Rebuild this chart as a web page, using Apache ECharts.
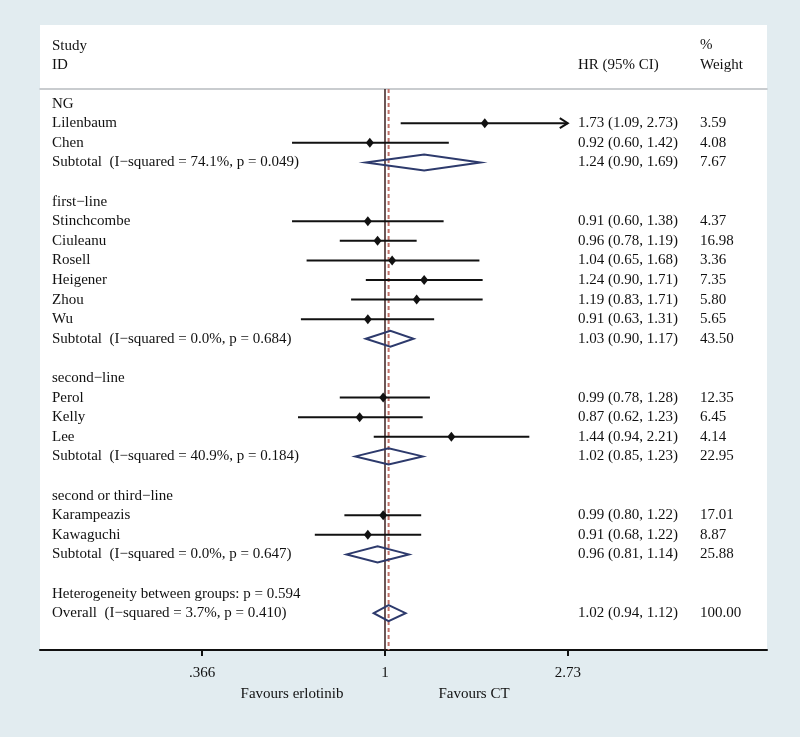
<!DOCTYPE html>
<html>
<head>
<meta charset="utf-8">
<script src="https://cdn.jsdelivr.net/npm/echarts@6/dist/echarts.min.js"></script>
<style>
  html, body { margin: 0; padding: 0; background: #e2ecf0; }
  #chart { width: 800px; height: 737px; }
</style>
</head>
<body>
<div id="chart"></div>
<script>
// rows of the forest plot, top to bottom
const rowNames = [
  'NG', 'Lilenbaum', 'Chen', 'Subtotal  (I\u2212squared = 74.1%, p = 0.049)', '',
  'first\u2212line', 'Stinchcombe', 'Ciuleanu', 'Rosell', 'Heigener', 'Zhou', 'Wu',
  'Subtotal  (I\u2212squared = 0.0%, p = 0.684)', '',
  'second\u2212line', 'Perol', 'Kelly', 'Lee', 'Subtotal  (I\u2212squared = 40.9%, p = 0.184)', '',
  'second or third\u2212line', 'Karampeazis', 'Kawaguchi', 'Subtotal  (I\u2212squared = 0.0%, p = 0.647)', '',
  'Heterogeneity between groups: p = 0.594', 'Overall  (I\u2212squared = 3.7%, p = 0.410)'
];
// 0 = study, 1 = pooled (diamond), null = text only
const rowKind = [
  null, 0, 0, 1, null,
  null, 0, 0, 0, 0, 0, 0, 1, null,
  null, 0, 0, 0, 1, null,
  null, 0, 0, 1, null,
  null, 1
];
const hrEst = [
  null, 1.73, 0.92, 1.24, null,
  null, 0.91, 0.96, 1.04, 1.24, 1.19, 0.91, 1.03, null,
  null, 0.99, 0.87, 1.44, 1.02, null,
  null, 0.99, 0.91, 0.96, null,
  null, 1.02
];
const ciLow = [
  null, 1.09, 0.60, 0.90, null,
  null, 0.60, 0.78, 0.65, 0.90, 0.83, 0.63, 0.90, null,
  null, 0.78, 0.62, 0.94, 0.85, null,
  null, 0.80, 0.68, 0.81, null,
  null, 0.94
];
const ciHigh = [
  null, 2.73, 1.42, 1.69, null,
  null, 1.38, 1.19, 1.68, 1.71, 1.71, 1.31, 1.17, null,
  null, 1.28, 1.23, 2.21, 1.23, null,
  null, 1.22, 1.22, 1.14, null,
  null, 1.12
];
const weights = [
  '', '3.59', '4.08', '7.67', '',
  '', '4.37', '16.98', '3.36', '7.35', '5.80', '5.65', '43.50', '',
  '', '12.35', '6.45', '4.14', '22.95', '',
  '', '17.01', '8.87', '25.88', '',
  '', '100.00'
];
const tickValues = [0.366, 1, 2.73];
const tickLabels = ['.366', '1', '2.73'];
const overallHR = hrEst[hrEst.length - 1];

const FONT = 'Liberation Serif';
const FS = 15;
const TXT = '#111';
const X_MIN = -1.8956, X_MAX = 2.0989;   // ln(HR) range of the plot box
const Y_MIN = -0.745, Y_MAX = 27.878;

const lnTicks = tickValues.map(Math.log);
const forestData = [];
rowNames.forEach(function (n, i) {
  if (rowKind[i] === null) return;
  forestData.push([Math.log(hrEst[i]), i, Math.log(ciLow[i]), Math.log(ciHigh[i]), rowKind[i]]);
});
const textData = rowNames.map(function (n, i) { return [0, i]; });

function renderForest(params, api) {
  const row = api.value(1);
  const c = api.coord([api.value(0), row]);
  const l = api.coord([api.value(2), row]);
  const h = api.coord([api.value(3), row]);
  if (api.value(4) === 1) {
    return {
      type: 'polygon',
      shape: { points: [[l[0], c[1]], [c[0], c[1] - 8], [h[0], c[1]], [c[0], c[1] + 8]] },
      style: { fill: 'none', stroke: '#2d3a6c', lineWidth: 2 }
    };
  }
  const children = [
    { type: 'line', shape: { x1: l[0], y1: c[1], x2: h[0], y2: c[1] },
      style: { stroke: '#111', lineWidth: 2 } },
    { type: 'polygon',
      shape: { points: [[c[0], c[1] - 5], [c[0] + 4, c[1]], [c[0], c[1] + 5], [c[0] - 4, c[1]]] },
      style: { fill: '#111' } }
  ];
  // CI reaching the last tick is drawn as an arrow
  if (api.value(3) >= lnTicks[lnTicks.length - 1] - 1e-9) {
    children.push({ type: 'polyline',
      shape: { points: [[h[0] - 8, c[1] - 5], [h[0], c[1]], [h[0] - 8, c[1] + 5]] },
      style: { stroke: '#111', lineWidth: 2, fill: 'none' } });
  }
  return { type: 'group', children: children };
}

function renderText(params, api) {
  const i = params.dataIndex;
  const cs = params.coordSys;
  const y = api.coord([0, api.value(1)])[1];
  const font = { fontFamily: FONT, fontSize: FS, fill: TXT, verticalAlign: 'middle' };
  const children = [
    { type: 'text', x: cs.x + 12, y: y, style: Object.assign({ text: rowNames[i] }, font) }
  ];
  if (hrEst[i] !== null) {
    const s = hrEst[i].toFixed(2) + ' (' + ciLow[i].toFixed(2) + ', ' + ciHigh[i].toFixed(2) + ')';
    children.push({ type: 'text', x: cs.x + 538, y: y, style: Object.assign({ text: s }, font) });
    children.push({ type: 'text', x: cs.x + 660, y: y, style: Object.assign({ text: weights[i] }, font) });
  }
  return { type: 'group', children: children };
}

const chart = echarts.init(document.getElementById('chart'));
const option = {
  backgroundColor: '#e2ecf0',
  animation: false,
  grid: { left: 40, right: 33, top: 89, bottom: 87 },
  xAxis: [
    {
      type: 'value',
      min: X_MIN,
      max: X_MAX,
      position: 'bottom',
      splitLine: { show: false },
      axisLine: { onZero: false, lineStyle: { color: '#111', width: 2 } },
      axisTick: { customValues: lnTicks, length: 6, lineStyle: { color: '#111', width: 2 } },
      axisLabel: {
        customValues: lnTicks,
        margin: 16,
        fontFamily: FONT,
        fontSize: FS,
        color: TXT,
        formatter: function (v) {
          let k = 0;
          lnTicks.forEach(function (t, j) { if (Math.abs(t - v) < Math.abs(lnTicks[k] - v)) k = j; });
          return tickLabels[k];
        }
      }
    },
    {
      type: 'value',
      min: X_MIN,
      max: X_MAX,
      position: 'top',
      splitLine: { show: false },
      axisLine: { onZero: false, lineStyle: { color: '#b8bcc0', width: 1.5 } },
      axisTick: { show: false },
      axisLabel: { show: false }
    }
  ],
  yAxis: { type: 'value', inverse: true, min: Y_MIN, max: Y_MAX, show: false },
  graphic: [
    { type: 'rect', z: -10, shape: { x: 40, y: 25, width: 727, height: 626 }, style: { fill: '#ffffff' } },
    { type: 'text', x: 52, y: 46, style: { text: 'Study', fontFamily: FONT, fontSize: FS, fill: TXT, verticalAlign: 'middle' } },
    { type: 'text', x: 52, y: 65, style: { text: 'ID', fontFamily: FONT, fontSize: FS, fill: TXT, verticalAlign: 'middle' } },
    { type: 'text', x: 578, y: 65, style: { text: 'HR (95% CI)', fontFamily: FONT, fontSize: FS, fill: TXT, verticalAlign: 'middle' } },
    { type: 'text', x: 700, y: 45, style: { text: '%', fontFamily: FONT, fontSize: FS, fill: TXT, verticalAlign: 'middle' } },
    { type: 'text', x: 700, y: 65, style: { text: 'Weight', fontFamily: FONT, fontSize: FS, fill: TXT, verticalAlign: 'middle' } },
    { type: 'text', x: 292, y: 694, style: { text: 'Favours erlotinib', fontFamily: FONT, fontSize: FS, fill: TXT, align: 'center', verticalAlign: 'middle' } },
    { type: 'text', x: 474, y: 694, style: { text: 'Favours CT', fontFamily: FONT, fontSize: FS, fill: TXT, align: 'center', verticalAlign: 'middle' } }
  ],
  series: [
    {
      type: 'line',
      data: [[0, Y_MIN], [0, Y_MAX]],
      symbol: 'none',
      silent: true,
      lineStyle: { color: '#3a1f1f', width: 1.5 },
      z: 1
    },
    {
      type: 'line',
      data: [[Math.log(overallHR), Y_MIN], [Math.log(overallHR), Y_MAX]],
      symbol: 'none',
      silent: true,
      lineStyle: { color: '#c07068', width: 2, type: [4, 3] },
      z: 1
    },
    {
      type: 'custom',
      renderItem: renderForest,
      encode: { x: [0, 2, 3], y: 1 },
      data: forestData,
      clip: false,
      z: 3
    },
    {
      type: 'custom',
      renderItem: renderText,
      encode: { x: 0, y: 1 },
      data: textData,
      clip: false,
      silent: true,
      z: 4
    }
  ]
};
chart.setOption(option);
</script>
</body>
</html>
